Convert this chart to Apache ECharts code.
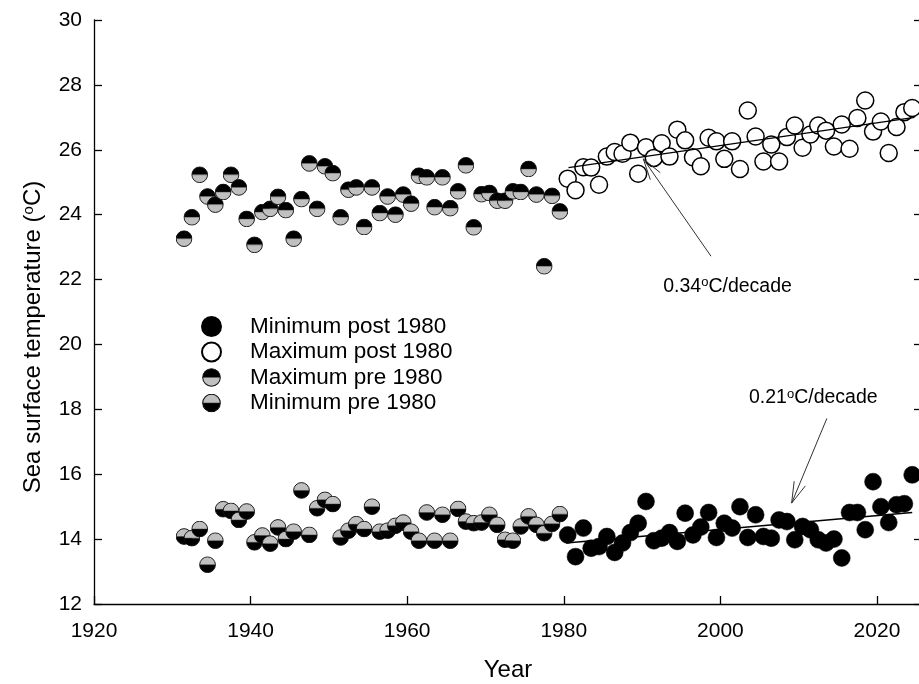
<!DOCTYPE html>
<html><head><meta charset="utf-8">
<script src="https://cdn.jsdelivr.net/npm/echarts@6/dist/echarts.min.js"></script>
<style>html,body{margin:0;padding:0;background:#fff}#c{width:919px;height:684px}</style>
</head><body><div id="c"></div>
<script>
// ---- data ----
const preYears = [1931.5,1932.5,1933.5,1934.5,1935.5,1936.5,1937.5,1938.5,1939.5,1940.5,
  1941.5,1942.5,1943.5,1944.5,1945.5,1946.5,1947.5,1948.5,1949.5,1950.5,
  1951.5,1952.5,1953.5,1954.5,1955.5,1956.5,1957.5,1958.5,1959.5,1960.5,
  1961.5,1962.5,1963.5,1964.5,1965.5,1966.5,1967.5,1968.5,1969.5,1970.5,
  1971.5,1972.5,1973.5,1974.5,1975.5,1976.5,1977.5,1978.5,1979.5];
const postYears = [1980.5,1981.5,1982.5,1983.5,1984.5,1985.5,1986.5,1987.5,1988.5,1989.5,
  1990.5,1991.5,1992.5,1993.5,1994.5,1995.5,1996.5,1997.5,1998.5,1999.5,
  2000.5,2001.5,2002.5,2003.5,2004.5,2005.5,2006.5,2007.5,2008.5,2009.5,
  2010.5,2011.5,2012.5,2013.5,2014.5,2015.5,2016.5,2017.5,2018.5,2019.5,
  2020.5,2021.5,2022.5,2023.5,2024.5];
const maxPre = [23.26,23.92,25.23,24.56,24.31,24.70,25.23,24.84,23.87,23.07,
  24.08,24.18,24.55,24.14,23.26,24.48,25.58,24.18,25.49,25.28,
  23.92,24.77,24.84,23.62,24.84,24.05,24.56,24.00,24.62,24.34,
  25.20,25.15,24.23,25.15,24.20,24.72,25.52,23.61,24.63,24.67,
  24.43,24.43,24.72,24.70,25.41,24.62,22.41,24.58,24.10];
const minPre = [14.08,14.03,14.31,13.21,13.95,14.92,14.87,14.59,14.85,13.90,
  14.11,13.86,14.36,14.00,14.23,15.50,14.13,14.95,15.21,15.08,
  14.05,14.26,14.46,14.31,15.00,14.23,14.26,14.41,14.51,14.23,
  13.95,14.82,13.95,14.75,13.95,14.93,14.54,14.49,14.51,14.75,
  14.44,13.98,13.95,14.39,14.70,14.44,14.18,14.47,14.77];
const maxPost = [25.11,24.75,25.46,25.45,24.92,25.79,25.93,25.88,26.22,25.26,
  26.08,25.75,26.20,25.79,26.62,26.29,25.77,25.49,26.37,26.26,
  25.72,26.26,25.41,27.21,26.41,25.64,26.16,25.64,26.39,26.75,
  26.06,26.47,26.75,26.59,26.10,26.78,26.03,26.98,27.52,26.56,
  26.87,25.90,26.70,27.16,27.29];
const minPost = [14.13,13.46,14.34,13.72,13.77,14.08,13.59,13.88,14.20,14.49,
  15.16,13.95,14.03,14.20,13.93,14.80,14.13,14.37,14.82,14.05,
  14.49,14.34,15.00,14.05,14.75,14.08,14.03,14.59,14.54,13.98,
  14.39,14.29,13.98,13.88,14.00,13.42,14.82,14.82,14.29,15.77,
  15.00,14.51,15.06,15.09,15.98];
// trend line end points
const maxTrendX = [1980.6, 2024.8];
const maxTrendY = [25.45, 27.0];
const minTrendX = [1980.3, 2024.5];
const minTrendY = [13.88, 14.82];
// annotation anchors (data units)
const maxNote = {text: '0.34', tail: [1998.8, 22.72], tip: [1990.15, 25.72], label: [1992.7, 21.79]};
const minNote = {text: '0.21', tail: [2013.6, 17.72], tip: [2009.1, 15.11], label: [2003.65, 18.35]};

const FONT = '"Liberation Sans", Arial, sans-serif';
const GRAY = '#c0c0c0';

function halfIcon(topColor, bottomColor) {
  const svg = '<svg xmlns="http://www.w3.org/2000/svg" width="40" height="40" viewBox="0 0 40 40">' +
    '<path d="M1.5,20 A18.5,18.5 0 0 1 38.5,20 Z" fill="' + topColor + '"/>' +
    '<path d="M1.5,20 A18.5,18.5 0 0 0 38.5,20 Z" fill="' + bottomColor + '"/>' +
    '<line x1="1.5" y1="20" x2="38.5" y2="20" stroke="#333" stroke-width="1.2"/>' +
    '<circle cx="20" cy="20" r="18.5" fill="none" stroke="#111" stroke-width="2.2"/></svg>';
  return 'image://data:image/svg+xml;charset=utf-8,' + encodeURIComponent(svg);
}
const maxPreIcon = halfIcon('#000000', GRAY);
const minPreIcon = halfIcon(GRAY, '#000000');

const zip = (xs, ys) => xs.map((x, i) => [x, ys[i]]);

const chart = echarts.init(document.getElementById('c'), null, {renderer: 'canvas'});
const axisCommon = {
  axisLine: {show: true, lineStyle: {color: '#000', width: 1.3}},
  axisTick: {show: true, inside: true, length: 8, lineStyle: {color: '#000', width: 1.3}},
  splitLine: {show: false}
};
chart.setOption({
  animation: false,
  backgroundColor: '#fff',
  grid: {left: 94, top: 20, bottom: 80, right: -3, containLabel: false, outerBoundsMode: 'none'},
  xAxis: [{
    type: 'value', min: 1920, max: 2025.75, interval: 20,
    name: 'Year', nameLocation: 'middle', nameGap: 54,
    nameTextStyle: {fontFamily: FONT, fontSize: 24, color: '#000'},
    axisLabel: {fontFamily: FONT, fontSize: 21, color: '#000', margin: 17, showMaxLabel: false,
      formatter: (v) => String(v)},
    ...axisCommon
  }],
  yAxis: [{
    type: 'value', min: 12, max: 30, interval: 2,
    name: 'Sea surface temperature ({sup|o}C)', nameLocation: 'middle', nameGap: 49,
    nameTextStyle: {fontFamily: FONT, fontSize: 24, color: '#000', padding: [0, 50, 0, 0],
      rich: {sup: {fontFamily: FONT, fontSize: 15, color: '#000', verticalAlign: 'top', lineHeight: 15}}},
    axisLabel: {fontFamily: FONT, fontSize: 21, color: '#000', margin: 12},
    ...axisCommon
  }, {
    type: 'value', min: 12, max: 30, interval: 2, position: 'right',
    axisLabel: {show: false},
    ...axisCommon
  }],
  legend: {
    orient: 'vertical', left: 196, top: 310,
    itemWidth: 19, itemHeight: 19, itemGap: 2.5,
    textStyle: {fontFamily: FONT, fontSize: 22.5, color: '#000', lineHeight: 19, padding: [0, 0, 0, 24]},
    data: [
      {name: 'Minimum post 1980', icon: 'circle'},
      {name: 'Maximum post 1980', icon: 'circle'},
      {name: 'Maximum pre 1980', icon: maxPreIcon},
      {name: 'Minimum pre 1980', icon: minPreIcon}
    ]
  },
  series: [
    {name: 'Maximum pre 1980', type: 'scatter', symbol: maxPreIcon, symbolSize: 17,
      data: zip(preYears, maxPre), itemStyle: {color: '#000', opacity: 1}},
    {name: 'Minimum pre 1980', type: 'scatter', symbol: minPreIcon, symbolSize: 17,
      data: zip(preYears, minPre), itemStyle: {color: '#000', opacity: 1}},
    {name: 'Maximum post 1980', type: 'scatter', symbol: 'circle', symbolSize: 17,
      data: zip(postYears, maxPost), itemStyle: {color: '#fff', borderColor: '#000', borderWidth: 1.5, opacity: 1}},
    {name: 'Minimum post 1980', type: 'scatter', symbol: 'circle', symbolSize: 17,
      data: zip(postYears, minPost), itemStyle: {color: '#000', borderColor: '#000', borderWidth: 0.5, opacity: 1}},
    {name: 'trendMax', type: 'line', data: zip(maxTrendX, maxTrendY), symbol: 'none', z: 5,
      lineStyle: {color: '#000', width: 1.4}},
    {name: 'trendMin', type: 'line', data: zip(minTrendX, minTrendY), symbol: 'none', z: 5,
      lineStyle: {color: '#000', width: 1.4}}
  ]
});

function arrowGraphic(note) {
  const p = (c) => chart.convertToPixel({xAxisIndex: 0, yAxisIndex: 0}, c);
  const tip = p(note.tip), tail = p(note.tail), lab = p(note.label);
  const dx = tail[0] - tip[0], dy = tail[1] - tip[1];
  const len = Math.hypot(dx, dy), ux = dx / len, uy = dy / len;
  const L = 22, th = 16 * Math.PI / 180;
  const arm = (s) => [tip[0] + L * (ux * Math.cos(s * th) - uy * Math.sin(s * th)),
                      tip[1] + L * (ux * Math.sin(s * th) + uy * Math.cos(s * th))];
  return [
    {type: 'polyline', shape: {points: [tail, tip]}, style: {stroke: '#333', lineWidth: 1, fill: null}, z: 10},
    {type: 'polyline', shape: {points: [arm(1), tip, arm(-1)]}, style: {stroke: '#333', lineWidth: 1, fill: null}, z: 10},
    {type: 'text', x: lab[0], y: lab[1], z: 10, style: {
      text: note.text + '{sup|o}C/decade', fill: '#000', fontFamily: FONT, fontSize: 19.5,
      verticalAlign: 'middle', align: 'left',
      rich: {sup: {fontFamily: FONT, fontSize: 13, fill: '#000', verticalAlign: 'top', lineHeight: 13}}
    }}
  ];
}
chart.setOption({graphic: {elements: [...arrowGraphic(maxNote), ...arrowGraphic(minNote)]}});
</script>
</body></html>
